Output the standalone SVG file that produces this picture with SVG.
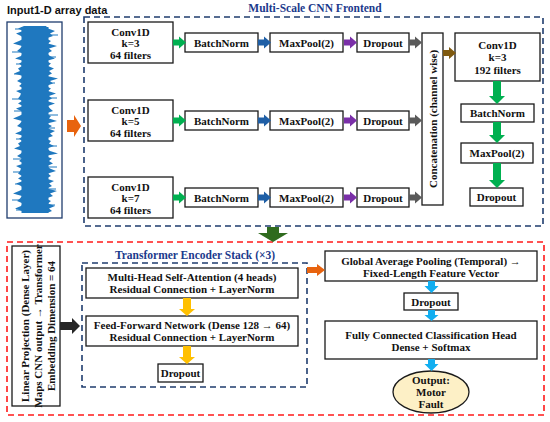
<svg xmlns="http://www.w3.org/2000/svg" width="550" height="422" viewBox="0 0 550 422">
<style>
text{font-family:"Liberation Serif","Times New Roman",serif;font-weight:bold;font-size:11px;fill:#111;text-anchor:middle}
.box{fill:#fff;stroke:#1a1a1a;stroke-width:1.3}
.bluedash{fill:none;stroke:#1f3c6e;stroke-width:1.6;stroke-dasharray:6 4}
.reddash{fill:none;stroke:#ff1a1a;stroke-width:1.6;stroke-dasharray:6 4}
.title{fill:#1b3a8c;font-size:11.5px}
.green{fill:#00b050}.blue{fill:#1f5fa6}.purple{fill:#7a2fa8}.gray{fill:#5a5a5a}.brown{fill:#7f5a10}
.orange{fill:#e8630e}.dgreen{fill:#2f6b1e}.yellow{fill:#ffc000}.lblue{fill:#12aef0}.black{fill:#262626}
.wave{fill:#1f78bf}
</style>
<defs>
<path id="ha" d="M0,-3 H6 V-6 L13,0 L6,6 V3 H0 Z"/>
</defs>

<text x="7" y="14" style="text-anchor:start;font-family:'Liberation Sans',Arial,sans-serif;font-size:11px">Input1-D array data</text>

<g id="input">
<rect x="7" y="22" width="55" height="196" fill="#fff" stroke="#1f3c6e" stroke-width="1.3"/>
<rect class="wave" x="21.5" y="27" width="27" height="186"/>
<path class="wave" d="M24,26 L18,28.5 L23,31 L16,33.5 L21,36 L24,38.5 L19,41 L13,43.5 L22,46 L20,48.5 L17,51 L23,53.5 L21,56 L15,58.5 L24,61 L19,63.5 L22,66 L18,68.5 L20,71 L14,73.5 L23,76 L21,78.5 L17,81 L22,83.5 L19,86 L24,88.5 L16,91 L21,93.5 L20,96 L18,98.5 L22,101 L18,103.5 L23,106 L16,108.5 L21,111 L24,113.5 L19,116 L13,118.5 L22,121 L20,123.5 L17,126 L23,128.5 L21,131 L15,133.5 L24,136 L19,138.5 L22,141 L18,143.5 L20,146 L14,148.5 L23,151 L21,153.5 L17,156 L22,158.5 L19,161 L24,163.5 L16,166 L21,168.5 L20,171 L18,173.5 L22,176 L18,178.5 L23,181 L16,183.5 L21,186 L24,188.5 L19,191 L13,193.5 L22,196 L20,198.5 L17,201 L23,203.5 L21,206 L15,208.5 L22,211 L24,213 L47,213 L52,211 L49,208.5 L55,206 L48,203.5 L51,201 L46,198.5 L53,196 L50,193.5 L57,191 L47,188.5 L52,186 L49,183.5 L54,181 L46,178.5 L51,176 L48,173.5 L56,171 L50,168.5 L47,166 L53,163.5 L49,161 L52,158.5 L45,156 L58,153.5 L50,151 L47,148.5 L54,146 L49,143.5 L51,141 L46,138.5 L53,136 L50,133.5 L55,131 L48,128.5 L52,126 L47,123.5 L57,121 L49,118.5 L51,116 L46,113.5 L53,111 L50,108.5 L48,106 L55,103.5 L47,101 L52,98.5 L49,96 L56,93.5 L48,91 L51,88.5 L46,86 L53,83.5 L50,81 L58,78.5 L47,76 L52,73.5 L49,71 L54,68.5 L48,66 L51,63.5 L46,61 L55,58.5 L50,56 L47,53.5 L52,51 L49,48.5 L57,46 L48,43.5 L51,41 L46,38.5 L53,36 L50,33.5 L55,31 L48,28.5 L46,26 Z"/>
<g stroke="#1f78bf" stroke-width="1">
<line x1="12" y1="52" x2="24" y2="52"/><line x1="14" y1="74" x2="24" y2="74"/><line x1="13" y1="172" x2="24" y2="172"/>
<line x1="15" y1="29" x2="24" y2="29"/><line x1="16" y1="64" x2="24" y2="64"/><line x1="12" y1="99" x2="24" y2="99"/>
<line x1="14" y1="111" x2="24" y2="111"/><line x1="16" y1="139" x2="24" y2="139"/><line x1="13" y1="159" x2="24" y2="159"/>
<line x1="15" y1="184" x2="24" y2="184"/><line x1="12" y1="200" x2="24" y2="200"/><line x1="16" y1="210" x2="24" y2="210"/>
<line x1="46" y1="35" x2="58" y2="35"/><line x1="46" y1="98" x2="57" y2="98"/><line x1="46" y1="146" x2="57" y2="146"/>
<line x1="46" y1="57" x2="56" y2="57"/><line x1="46" y1="83" x2="55" y2="83"/><line x1="46" y1="115" x2="58" y2="115"/>
<line x1="46" y1="128" x2="55" y2="128"/><line x1="46" y1="167" x2="57" y2="167"/><line x1="46" y1="189" x2="56" y2="189"/>
<line x1="46" y1="205" x2="55" y2="205"/>
</g>
</g>

<g id="cnn-frame">
<rect class="bluedash" x="84" y="17" width="459" height="209"/>
<text class="title" x="315" y="12">Multi-Scale CNN Frontend</text>
</g>

<g id="conv-k3"><rect class="box" x="88" y="22" width="85" height="41"/><text x="130.5" y="36">Conv1D</text><text x="130.5" y="47">k=3</text><text x="130.5" y="59">64 filters</text></g>
<g id="conv-k5"><rect class="box" x="88" y="100" width="85" height="41"/><text x="130.5" y="114">Conv1D</text><text x="130.5" y="125">k=5</text><text x="130.5" y="137">64 filters</text></g>
<g id="conv-k7"><rect class="box" x="88" y="177" width="85" height="41"/><text x="130.5" y="191">Conv1D</text><text x="130.5" y="202">k=7</text><text x="130.5" y="214">64 filters</text></g>

<g id="bn-1"><rect class="box" x="185" y="33" width="73" height="19"/><text x="221.5" y="46.5">BatchNorm</text></g>
<g id="bn-2"><rect class="box" x="185" y="111" width="73" height="19"/><text x="221.5" y="124.5">BatchNorm</text></g>
<g id="bn-3"><rect class="box" x="185" y="188" width="73" height="19"/><text x="221.5" y="201.5">BatchNorm</text></g>

<g id="mp-1"><rect class="box" x="270" y="33" width="73" height="19"/><text x="306.5" y="46.5">MaxPool(2)</text></g>
<g id="mp-2"><rect class="box" x="270" y="111" width="73" height="19"/><text x="306.5" y="124.5">MaxPool(2)</text></g>
<g id="mp-3"><rect class="box" x="270" y="188" width="73" height="19"/><text x="306.5" y="201.5">MaxPool(2)</text></g>

<g id="do-1"><rect class="box" x="357" y="33" width="52" height="19"/><text x="383" y="46.5">Dropout</text></g>
<g id="do-2"><rect class="box" x="357" y="111" width="52" height="19"/><text x="383" y="124.5">Dropout</text></g>
<g id="do-3"><rect class="box" x="357" y="188" width="52" height="19"/><text x="383" y="201.5">Dropout</text></g>

<g id="concat"><rect class="box" x="422" y="33" width="21" height="172"/><text transform="translate(436.5,119) rotate(-90)">Concatenation (channel wise)</text></g>

<g id="conv-192"><rect class="box" x="455" y="33" width="85" height="48"/><text x="497.5" y="49">Conv1D</text><text x="497.5" y="61">k=3</text><text x="497.5" y="74">192 filters</text></g>
<g id="bn-r"><rect class="box" x="461" y="104" width="73" height="18"/><text x="497.5" y="117">BatchNorm</text></g>
<g id="mp-r"><rect class="box" x="461" y="143" width="72" height="20"/><text x="497" y="157">MaxPool(2)</text></g>
<g id="do-r"><rect class="box" x="470" y="188" width="53" height="18"/><text x="496.5" y="201">Dropout</text></g>

<g id="transformer-frame">
<rect class="reddash" x="7" y="242" width="537" height="173"/>
<rect class="bluedash" x="82" y="263" width="225" height="124"/>
<text class="title" x="195" y="259">Transformer Encoder Stack (×3)</text>
</g>

<g id="linear"><rect class="box" x="12" y="246" width="48" height="160"/>
<text transform="translate(29,326) rotate(-90)">Linear Projection (Dense Layer)</text>
<text transform="translate(42,326) rotate(-90)">Maps CNN output → Transformer</text>
<text transform="translate(55,326) rotate(-90)">Embedding  Dimension = 64</text></g>

<g id="mhsa"><rect class="box" x="86" y="268" width="212" height="30"/><text x="192" y="281">Multi-Head Self-Attention (4 heads)</text><text x="192" y="293">Residual Connection + LayerNorm</text></g>
<g id="ffn"><rect class="box" x="86" y="316" width="212" height="30"/><text x="192" y="329">Feed-Forward Network (Dense 128 → 64)</text><text x="192" y="341">Residual Connection + LayerNorm</text></g>
<g id="do-t"><rect class="box" x="158" y="364" width="45" height="18"/><text x="180.5" y="377">Dropout</text></g>

<g id="gap"><rect class="box" x="325" y="251" width="212" height="30"/><text x="431" y="265">Global Average Pooling (Temporal) →</text><text x="431" y="277">Fixed-Length Feature Vector</text></g>
<g id="do-c"><rect class="box" x="404" y="293" width="54" height="17"/><text x="431" y="305.5">Dropout</text></g>
<g id="fc"><rect class="box" x="325" y="321" width="212" height="38"/><text x="431" y="339">Fully Connected Classification Head</text><text x="431" y="351">Dense + Softmax</text></g>
<g id="output"><ellipse cx="431" cy="392" rx="38" ry="21" fill="#fdf0c6" stroke="#1a1a1a" stroke-width="1.3"/><text x="431" y="384">Output:</text><text x="431" y="396">Motor</text><text x="431" y="408">Fault</text></g>

<g id="connectors">
<path class="orange" d="M67,120 H74 V115 L81,126 L74,137 V132 H67 Z"/>
<use href="#ha" class="green" x="173" y="42.5"/>
<use href="#ha" class="green" x="173" y="120.5"/>
<use href="#ha" class="green" x="173" y="197.5"/>
<use href="#ha" class="blue" x="258" y="42.5"/>
<use href="#ha" class="blue" x="258" y="120.5"/>
<use href="#ha" class="blue" x="258" y="197.5"/>
<use href="#ha" class="purple" x="344" y="42.5"/>
<use href="#ha" class="purple" x="344" y="120.5"/>
<use href="#ha" class="purple" x="344" y="197.5"/>
<use href="#ha" class="gray" x="409" y="42.5"/>
<use href="#ha" class="gray" x="409" y="120.5"/>
<use href="#ha" class="gray" x="409" y="197.5"/>
<use href="#ha" class="brown" x="443" y="53"/>
<path class="green" d="M493,81 H501 V96 H505 L497,104 L489,96 H493 Z"/>
<path class="green" d="M493,122 H501 V135 H505 L497,143 L489,135 H493 Z"/>
<path class="green" d="M493,163 H501 V180 H505 L497,188 L489,180 H493 Z"/>
<path class="dgreen" d="M267,227 H279 V233 H288 L273,242 L258,233 H267 Z"/>
<path class="black" d="M60,322 H72 V318 L80,326 L72,334 V330 H60 Z"/>
<path class="yellow" d="M183,298 H191 V309 H195 L187,316 L179,309 H183 Z"/>
<path class="yellow" d="M183,346 H191 V357 H195 L187,364 L179,357 H183 Z"/>
<path class="orange" d="M307,267 H317 V264 L325,270 L317,276 V273 H307 Z"/>
<path class="lblue" d="M428,281 H435 V286 H438.5 L431.5,293 L424.5,286 H428 Z"/>
<path class="lblue" d="M428,310 H435 V315 H438.5 L431.5,321 L424.5,315 H428 Z"/>
<path class="lblue" d="M428,359 H435 V364 H438.5 L431.5,371 L424.5,364 H428 Z"/>
</g>
</svg>
